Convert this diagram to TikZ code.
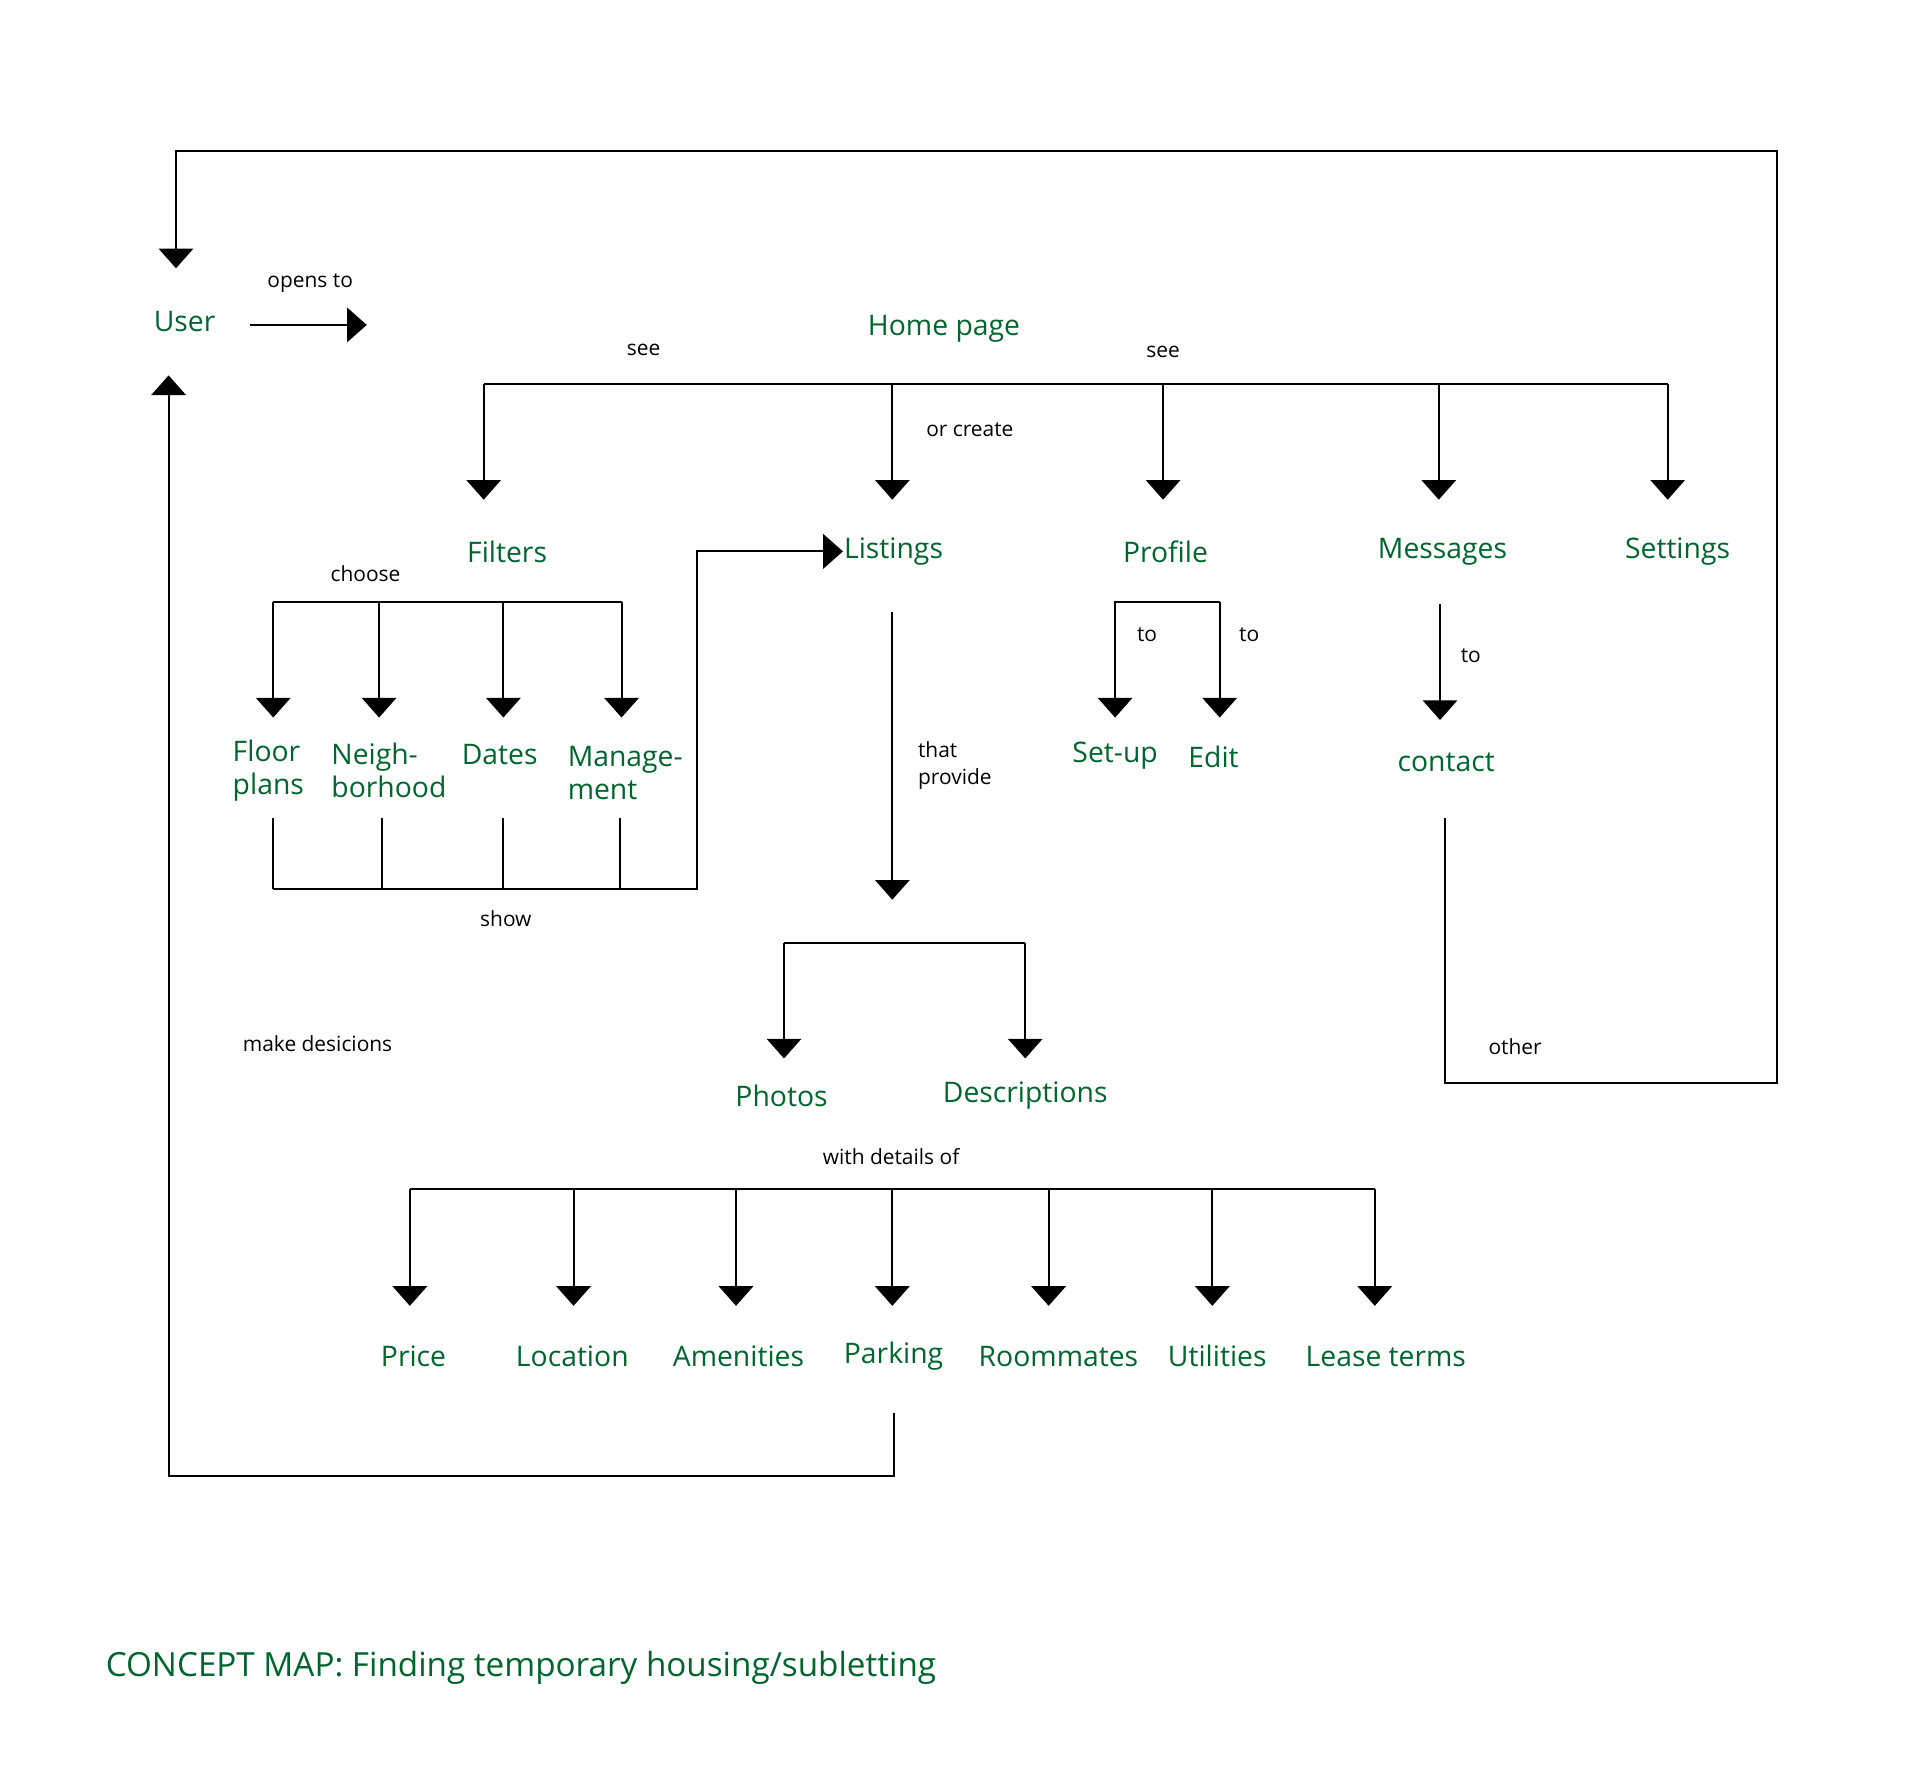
\documentclass[tikz,border=0pt]{standalone}
\usepackage{fontspec}
\setmainfont{Open Sans}
\usetikzlibrary{arrows.meta}
\definecolor{mapgreen}{RGB}{0,102,45}
\tikzset{
  concept/.style={font=\fontsize{23}{27}\selectfont,color=mapgreen,inner sep=0.75pt,align=left},
  link/.style={font=\fontsize{17}{22}\selectfont,inner sep=0.75pt,align=left},
  tree/.style={line width=1.6pt},
  arr/.style={tree,-{Triangle[width=28pt,length=16pt]}}
}
\begin{document}
\begin{tikzpicture}[x=1pt,y=1pt,yscale=-1]
\useasboundingbox (0,0) rectangle (1560,1453);

% Concept nodes
\node (user) [concept] at (150,261) {User};
\node (home) [concept] at (767,267) {Home page};
\node (filters) [concept] at (412,448) {Filters};
\node (listings) [concept] at (726,448) {Listings};
\node (profile) [concept] at (947,448) {Profile};
\node (messages) [concept] at (1172,448) {Messages};
\node (settings) [concept] at (1363,448) {Settings};
\node (floor) [concept] at (218,626) {Floor\\plans};
\node (neigh) [concept] at (316,626) {Neigh-\\borhood};
\node (dates) [concept] at (406,613) {Dates};
\node (manage) [concept] at (508,628) {Manage-\\ment};
\node (setup) [concept] at (906,614) {Set-up};
\node (edit) [concept] at (986,615) {Edit};
\node (contact) [concept] at (1175,619) {contact};
\node (photos) [concept] at (635,890) {Photos};
\node (descr) [concept] at (833,890) {Descriptions};
\node (price) [concept] at (336,1102) {Price};
\node (location) [concept] at (465,1102) {Location};
\node (amen) [concept] at (600,1102) {Amenities};
\node (parking) [concept] at (726,1102) {Parking};
\node (room) [concept] at (860,1102) {Roommates};
\node (util) [concept] at (989,1102) {Utilities};
\node (lease) [concept] at (1126,1102) {Lease terms};
\node (title) [concept,anchor=west,font=\fontsize{27}{32}\selectfont] at (85,1355) {CONCEPT MAP: Finding temporary housing/subletting};

% Link labels
\node [link] at (252,230) {opens to};
\node [link] at (523,284) {see};
\node [link] at (945,286) {see};
\node [link] at (788,349) {or create};
\node [link] at (297,466) {choose};
\node [link] at (411,746) {show};
\node [link,anchor=west] at (745,622) {that\\provide};
\node [link] at (932,516) {to};
\node [link] at (1015,516) {to};
\node [link] at (1195,533) {to};
\node [link] at (1231,850) {other};
\node [link] at (724,940) {with details of};
\node [link] at (258,848) {make desicions};

% User opens home page
\draw [arr] (203,264) -- (298,264);

% Home page branches
\draw [tree] (393,312) -- (1355,312);
\foreach \x in {393,725,945,1169,1355}
  \draw [arr] (\x,312) -- (\x,406);

% Filters branches
\draw [tree] (222,489) -- (505,489);
\foreach \x in {222,308,409,505}
  \draw [arr] (\x,489) -- (\x,583);
\foreach \x in {222,310,409,504}
  \draw [tree] (\x,665) -- (\x,722);
\draw [arr] (222,722) -- (566,722) -- (566,448) -- (listings.west);

% Listings provide
\draw [arr] (725,497) -- (725,731);
\draw [tree] (637,766) -- (833,766);
\draw [arr] (637,766) -- (637,860);
\draw [arr] (833,766) -- (833,860);

% Details
\draw [tree] (333,966) -- (1117,966);
\foreach \x in {333,466,598,725,852,985,1117}
  \draw [arr] (\x,966) -- (\x,1061);

% Profile
\draw [arr] (991,489) -- (906,489) -- (906,583);
\draw [arr] (991,489) -- (991,583);

% Messages
\draw [arr] (1170,491) -- (1170,585);

% Loops back to user
\draw [arr] (726,1148) -- (726,1199) -- (137,1199) -- (137,305);
\draw [arr] (1174,665) -- (1174,880) -- (1444,880) -- (1444,123) -- (143,123) -- (143,218);
\end{tikzpicture}
\end{document}
